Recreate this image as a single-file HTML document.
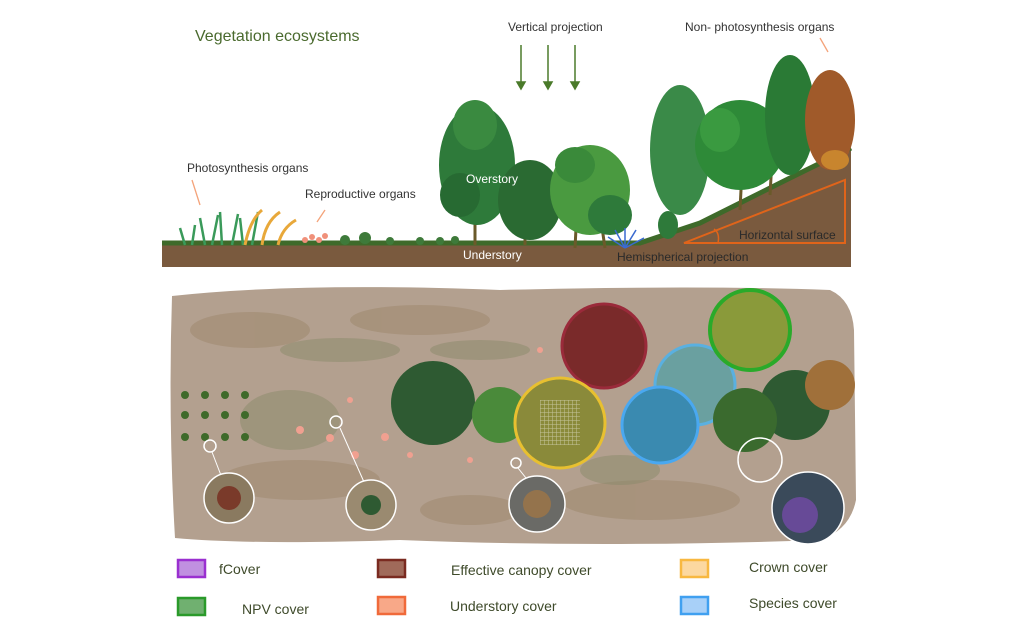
<!DOCTYPE html>
<html><head><meta charset="utf-8"><style>
html,body{margin:0;padding:0;background:#fff;}
svg{display:block;font-family:"Liberation Sans",sans-serif;}
</style></head><body>
<svg width="1024" height="632" viewBox="0 0 1024 632" xmlns="http://www.w3.org/2000/svg">
<defs>
<pattern id="g" width="4" height="4" patternUnits="userSpaceOnUse"><path d="M0 0H4M0 0V4" stroke="#fff" stroke-opacity=".5" stroke-width="1"/></pattern>
</defs>
<!-- TOP PANEL -->
<text x="195" y="41" font-size="16" fill="#4a6a2e">Vegetation ecosystems</text>
<text x="508" y="31" font-size="12" fill="#333">Vertical projection</text>
<text x="685" y="31" font-size="12" fill="#333">Non-   photosynthesis organs</text>
<g stroke="#4a7a2a" stroke-width="1.5" fill="#4a7a2a">
<line x1="521" y1="45" x2="521" y2="85"/><path d="M517 82L521 89L525 82Z"/>
<line x1="548" y1="45" x2="548" y2="85"/><path d="M544 82L548 89L552 82Z"/>
<line x1="575" y1="45" x2="575" y2="85"/><path d="M571 82L575 89L579 82Z"/>
</g>
<line x1="820" y1="38" x2="828" y2="52" stroke="#f4a37a" stroke-width="1.3"/>
<text x="187" y="172" font-size="12" fill="#333">Photosynthesis organs</text>
<line x1="192" y1="180" x2="200" y2="205" stroke="#f4a37a" stroke-width="1.3"/>
<text x="305" y="198" font-size="12" fill="#333">Reproductive organs</text>
<line x1="325" y1="210" x2="317" y2="222" stroke="#f4a37a" stroke-width="1.3"/>
<!-- ground -->
<path d="M162 245 L640 245 L700 225 L790 180 L851 150 L851 267 L162 267Z" fill="#7a5a3e"/>
<path d="M162 243 L640 243 L700 223 L790 178 L851 148" fill="none" stroke="#3e6a2a" stroke-width="5"/>
<g stroke="#3a9a5a" stroke-width="2.5" fill="none">
<path d="M185 245 L180 228M192 245 L195 225M205 245 L200 218M212 245 L218 215M222 245 L220 212M232 245 L238 214M243 245 L240 218M252 245 L258 212"/>
</g>
<g stroke="#e8a83a" stroke-width="3" fill="none"><path d="M245 245 Q250 220 262 210M262 245 Q265 222 280 212M278 245 Q282 228 296 220"/></g>
<g fill="#f0907a"><circle cx="305" cy="240" r="3"/><circle cx="312" cy="237" r="3"/><circle cx="319" cy="240" r="3"/><circle cx="325" cy="236" r="3"/></g>
<g fill="#3e7a3a"><circle cx="345" cy="240" r="5"/><circle cx="365" cy="238" r="6"/><circle cx="390" cy="241" r="4"/><circle cx="420" cy="241" r="4"/><circle cx="440" cy="241" r="4"/><circle cx="455" cy="240" r="4"/></g>
<g stroke="#6a5a2a" stroke-width="3"><line x1="475" y1="245" x2="475" y2="200"/><line x1="525" y1="245" x2="525" y2="210"/><line x1="575" y1="248" x2="578" y2="190"/><line x1="605" y1="248" x2="598" y2="200"/><line x1="740" y1="210" x2="742" y2="170"/><line x1="770" y1="195" x2="772" y2="160"/></g>
<ellipse cx="477" cy="165" rx="38" ry="60" fill="#2e7a3a"/>
<ellipse cx="475" cy="125" rx="22" ry="25" fill="#3a8a40"/>
<ellipse cx="460" cy="195" rx="20" ry="22" fill="#276a32"/>
<ellipse cx="530" cy="200" rx="32" ry="40" fill="#2a6a32"/>
<ellipse cx="590" cy="190" rx="40" ry="45" fill="#4a9a40"/>
<ellipse cx="575" cy="165" rx="20" ry="18" fill="#3a8a3a"/>
<ellipse cx="610" cy="215" rx="22" ry="20" fill="#2e7a3a"/>
<ellipse cx="680" cy="150" rx="30" ry="65" fill="#3a8a48"/>
<ellipse cx="740" cy="145" rx="45" ry="45" fill="#2e8a38"/>
<ellipse cx="720" cy="130" rx="20" ry="22" fill="#3a9a40"/>
<ellipse cx="790" cy="115" rx="25" ry="60" fill="#2a7a35"/>
<ellipse cx="830" cy="120" rx="25" ry="50" fill="#a05a2a"/>
<ellipse cx="835" cy="160" rx="14" ry="10" fill="#c8852e"/>
<ellipse cx="668" cy="225" rx="10" ry="14" fill="#2e7a3a"/>
<text x="466" y="183" font-size="12" fill="#fff">Overstory</text>
<text x="463" y="259" font-size="12" fill="#fff">Understory</text>
<g stroke="#3a6ad0" stroke-width="1.5" fill="none"><path d="M625 248L608 237M625 248L615 230M625 248L625 228M625 248L636 230M625 248L644 238"/></g>
<text x="617" y="261" font-size="12" fill="#2a2a2a">Hemispherical projection</text>
<path d="M684 243 L845 180 L845 243 Z" fill="none" stroke="#e0641a" stroke-width="2"/>
<path d="M718 243 Q720 233 714 229" fill="none" stroke="#e0641a" stroke-width="1.5"/>
<text x="739" y="239" font-size="12" fill="#2a2a2a">Horizontal surface</text>
<!-- BOTTOM PANEL -->
<path d="M172 296 Q300 282 500 290 Q700 285 830 290 Q852 300 854 330 L856 500 Q850 530 820 540 Q600 548 400 540 Q250 545 175 538 Q168 420 172 296Z" fill="#b3a08f"/>
<g fill="#a59078" opacity=".8">
<ellipse cx="250" cy="330" rx="60" ry="18"/><ellipse cx="420" cy="320" rx="70" ry="15"/><ellipse cx="300" cy="480" rx="80" ry="20"/><ellipse cx="650" cy="500" rx="90" ry="20"/><ellipse cx="470" cy="510" rx="50" ry="15"/>
</g>
<g fill="#8a8a6a" opacity=".5">
<ellipse cx="340" cy="350" rx="60" ry="12"/><ellipse cx="480" cy="350" rx="50" ry="10"/><ellipse cx="290" cy="420" rx="50" ry="30"/><ellipse cx="620" cy="470" rx="40" ry="15"/>
</g>
<circle cx="433" cy="403" r="42" fill="#2e5a32"/>
<circle cx="500" cy="415" r="28" fill="#4a8a3a"/>
<circle cx="604" cy="346" r="42" fill="#7a2a2a" stroke="#9a2a3a" stroke-width="3"/>
<circle cx="695" cy="385" r="40" fill="#6aa0a0" stroke="#5ab0e0" stroke-width="3"/>
<circle cx="660" cy="425" r="38" fill="#3a8ab0" stroke="#4aa8f0" stroke-width="3"/>
<circle cx="750" cy="330" r="40" fill="#8a9a3a" stroke="#2aaa2a" stroke-width="4"/>
<circle cx="795" cy="405" r="35" fill="#2e5a32"/>
<circle cx="745" cy="420" r="32" fill="#3a6a2e"/>
<circle cx="830" cy="385" r="25" fill="#a0703a"/>
<circle cx="560" cy="423" r="45" fill="#8a8a3a" stroke="#e8c030" stroke-width="3"/>
<rect x="540" y="400" width="40" height="45" fill="url(#g)"/>
<g fill="#3e6a2a"><circle cx="185" cy="395" r="4"/><circle cx="205" cy="395" r="4"/><circle cx="225" cy="395" r="4"/><circle cx="245" cy="395" r="4"/><circle cx="185" cy="415" r="4"/><circle cx="205" cy="415" r="4"/><circle cx="225" cy="415" r="4"/><circle cx="245" cy="415" r="4"/><circle cx="185" cy="437" r="4"/><circle cx="205" cy="437" r="4"/><circle cx="225" cy="437" r="4"/><circle cx="245" cy="437" r="4"/></g>
<g fill="#f0a090"><circle cx="300" cy="430" r="4"/><circle cx="330" cy="438" r="4"/><circle cx="355" cy="455" r="4"/><circle cx="385" cy="437" r="4"/><circle cx="410" cy="455" r="3"/><circle cx="350" cy="400" r="3"/><circle cx="470" cy="460" r="3"/><circle cx="540" cy="350" r="3"/></g>
<g stroke="#fff" stroke-width="1.5" fill="none"><circle cx="210" cy="446" r="6"/><circle cx="336" cy="422" r="6"/><circle cx="516" cy="463" r="5"/><circle cx="760" cy="460" r="22"/></g>
<g stroke="#fff" stroke-width="1"><line x1="212" y1="452" x2="222" y2="478"/><line x1="340" y1="428" x2="364" y2="482"/><line x1="518" y1="468" x2="526" y2="478"/></g>
<circle cx="229" cy="498" r="25" fill="#8a7a60" stroke="#fff" stroke-width="1.5"/>
<circle cx="229" cy="498" r="12" fill="#7a3a2a"/>
<circle cx="371" cy="505" r="25" fill="#9a8a70" stroke="#fff" stroke-width="1.5"/>
<circle cx="371" cy="505" r="10" fill="#2e5a32"/>
<circle cx="537" cy="504" r="28" fill="#6a6a66" stroke="#fff" stroke-width="1.5"/>
<circle cx="537" cy="504" r="14" fill="#b07a3a" fill-opacity=".6"/>
<circle cx="808" cy="508" r="36" fill="#3a4a5a" stroke="#fff" stroke-width="1.5"/>
<circle cx="800" cy="515" r="18" fill="#7a4ab0" fill-opacity=".7"/>
<!-- LEGEND -->
<g stroke-width="2.5">
<rect x="178" y="560" width="27" height="17" fill="#c090e0" stroke="#9a30d0"/>
<rect x="178" y="598" width="27" height="17" fill="#70b070" stroke="#2a9a2a"/>
<rect x="378" y="560" width="27" height="17" fill="#a06a5a" stroke="#7a2a20"/>
<rect x="378" y="597" width="27" height="17" fill="#f8a888" stroke="#f06a3a"/>
<rect x="681" y="560" width="27" height="17" fill="#fcd8a0" stroke="#f8b840"/>
<rect x="681" y="597" width="27" height="17" fill="#a8d0f8" stroke="#40a0f0"/>
</g>
<g font-size="14" fill="#3e4a2a">
<text x="219" y="574">fCover</text>
<text x="242" y="614">NPV cover</text>
<text x="451" y="575">Effective canopy cover</text>
<text x="450" y="611">Understory cover</text>
<text x="749" y="572">Crown cover</text>
<text x="749" y="608">Species cover</text>
</g>
</svg>
</body></html>
